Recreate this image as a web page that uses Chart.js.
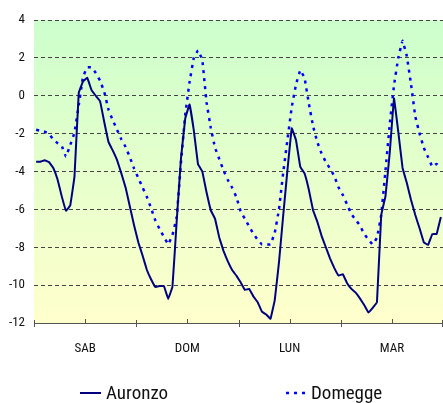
<!DOCTYPE html>
<html>
<head>
<meta charset="utf-8">
<script src="https://cdn.jsdelivr.net/npm/chart.js@4"></script>
<style>
  html, body { margin: 0; padding: 0; background: #ffffff; }
  #wrap { width: 443px; height: 403px; position: relative; }
</style>
</head>
<body>
<div id="wrap"><canvas id="c" width="443" height="403"></canvas></div>
<script>
// ---- data (hourly values, 4 days) ----
const dayLabels = ['SAB', 'DOM', 'LUN', 'MAR'];
const seriesNames = ['Auronzo', 'Domegge'];
const auronzo = [
  -3.48, -3.48, -3.41, -3.5, -3.8, -4.4, -5.3, -6.07, -5.8, -4.27, 0.15, 0.75,
  0.95, 0.3, 0.0, -0.28, -1.4, -2.45, -2.9, -3.4, -4.1, -4.85, -5.85, -6.85,
  -7.75, -8.45, -9.2, -9.7, -10.1, -10.05, -10.05, -10.73, -10.08, -6.6, -3.3, -1.2,
  -0.46, -1.81, -3.62, -4.0, -5.1, -6.05, -6.5, -7.5, -8.2, -8.75, -9.2, -9.5,
  -9.85, -10.25, -10.2, -10.6, -10.9, -11.4, -11.55, -11.78, -10.8, -8.8, -6.3, -3.9,
  -1.72, -2.35, -3.75, -4.1, -4.95, -6.05, -6.65, -7.4, -8.0, -8.6, -9.1, -9.5,
  -9.42, -9.9, -10.2, -10.4, -10.7, -11.05, -11.45, -11.2, -10.9, -6.3, -5.3, -3.0,
  -0.14, -1.9, -3.8, -4.6, -5.5, -6.3, -7.0, -7.74, -7.88, -7.3, -7.3, -6.4
];
const domegge = [
  -1.8, -1.85, -1.9, -2.0, -2.3, -2.5, -2.64, -3.22, -2.6, -1.95, -0.5, 1.0,
  1.5, 1.5, 1.2, 0.8, 0.2, -0.75, -1.3, -1.8, -2.3, -2.7, -3.25, -3.85,
  -4.35, -4.85, -5.35, -5.95, -6.6, -7.05, -7.45, -7.85, -7.35, -6.4, -3.5, -1.0,
  0.7, 2.0, 2.4, 1.9, -0.35, -1.7, -2.75, -3.35, -3.95, -4.45, -4.85, -5.35,
  -6.1, -6.5, -6.9, -7.3, -7.6, -7.85, -7.85, -7.85, -7.25, -6.0, -4.05, -2.3,
  -0.6, 0.6, 1.35, 0.95, -0.4, -1.6, -2.45, -3.05, -3.5, -3.85, -4.25, -4.85,
  -5.25, -5.75, -6.25, -6.55, -6.85, -7.3, -7.6, -7.85, -7.5, -6.3, -3.95, -1.5,
  0.55, 2.0, 2.9, 2.1, 0.6, -1.1, -2.0, -2.75, -3.25, -3.75, -3.6, -3.75
];
const yTicks = { min: -12, max: 4, step: 2 };

const FONT = "'Liberation Sans Narrow', 'Arial Narrow', 'Roboto Condensed', 'DejaVu Sans Condensed', sans-serif";

function toPoints(arr) { return arr.map((v, i) => ({ x: i + 0.5, y: v })); }

const bgPlugin = {
  id: 'bg',
  beforeDraw(chart) {
    const { ctx, chartArea: a } = chart;
    const g = ctx.createLinearGradient(0, a.top, 0, a.bottom);
    g.addColorStop(0, '#ccffcc');
    g.addColorStop(1, '#ffffcc');
    ctx.save();
    ctx.fillStyle = g;
    ctx.fillRect(a.left, a.top, a.right - a.left, a.bottom - a.top);
    ctx.restore();
  }
};

const tickPlugin = {
  id: 'xticks',
  afterDraw(chart) {
    const { ctx } = chart;
    const sx = chart.scales.x;
    const b = chart.chartArea.bottom;
    ctx.save();
    ctx.strokeStyle = '#555';
    ctx.lineWidth = 1;
    sx.ticks.forEach(t => {
      const px = Math.min(Math.round(sx.getPixelForValue(t.value)) + 0.5, chart.width - 0.5);
      ctx.beginPath();
      if (t.value % 24 === 0) { ctx.moveTo(px, b - 3); ctx.lineTo(px, b + 4); }
      else { ctx.moveTo(px, b - 4); ctx.lineTo(px, b); }
      ctx.stroke();
    });
    ctx.restore();
  }
};

const legendPlugin = {
  id: 'customLegend',
  afterDraw(chart) {
    const { ctx } = chart;
    const items = [
      { ds: chart.data.datasets[0], x0: 80, x1: 101, tx: 106 },
      { ds: chart.data.datasets[1], x0: 286, x1: 307, tx: 311 }
    ];
    const y = 393;
    ctx.save();
    items.forEach(it => {
      ctx.strokeStyle = it.ds.borderColor;
      ctx.lineWidth = it.ds.borderWidth;
      ctx.setLineDash(it.ds.borderDash || []);
      ctx.beginPath();
      ctx.moveTo(it.x0, y);
      ctx.lineTo(it.x1, y);
      ctx.stroke();
      ctx.setLineDash([]);
      ctx.fillStyle = '#111';
      ctx.font = '19px ' + FONT;
      ctx.textBaseline = 'middle';
      ctx.textAlign = 'left';
      ctx.fillText(it.ds.label, it.tx, y + 1);
    });
    ctx.restore();
  }
};

new Chart(document.getElementById('c'), {
  type: 'line',
  data: {
    datasets: [
      {
        label: seriesNames[0],
        data: toPoints(auronzo),
        borderColor: '#000080',
        borderWidth: 2,
        pointRadius: 0,
        tension: 0.05,
        fill: false
      },
      {
        label: seriesNames[1],
        data: toPoints(domegge),
        borderColor: '#0000ff',
        borderWidth: 2.5,
        borderDash: [3, 5],
        pointRadius: 0,
        tension: 0.05,
        fill: false
      }
    ]
  },
  options: {
    responsive: false,
    animation: false,
    layout: { padding: { top: 20, right: 0, left: 0, bottom: 0 } },
    plugins: {
      legend: { display: false },
      tooltip: { enabled: false }
    },
    scales: {
      x: {
        type: 'linear',
        min: 0,
        max: 96,
        afterFit(s) { s.height = 80; s.paddingRight = 0; },
        ticks: {
          stepSize: 12,
          autoSkip: false,
          maxRotation: 0,
          padding: 0,
          color: '#111',
          font: { family: FONT, size: 13 },
          callback(v) { return (v % 24 === 12) ? dayLabels[(v - 12) / 24] : ''; }
        },
        grid: { drawOnChartArea: false, drawTicks: true, tickLength: 18, tickColor: 'rgba(0,0,0,0)' },
        border: { display: true, color: '#555', width: 1 }
      },
      y: {
        min: yTicks.min,
        max: yTicks.max,
        afterFit(s) { s.width = 34; },
        ticks: {
          stepSize: yTicks.step,
          padding: 0,
          color: '#111',
          font: { family: FONT, size: 13 }
        },
        grid: { color: '#444', lineWidth: 1, drawTicks: true, tickLength: 9, tickColor: 'rgba(0,0,0,0)' },
        border: { display: false, dash: [4, 3] }
      }
    }
  },
  plugins: [bgPlugin, tickPlugin, legendPlugin]
});
</script>
</body>
</html>
